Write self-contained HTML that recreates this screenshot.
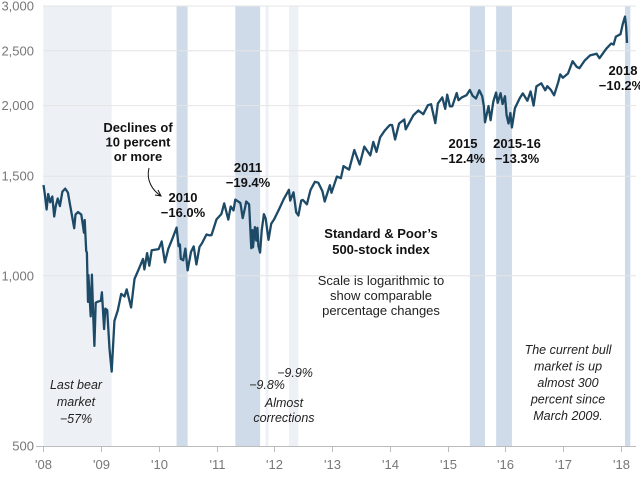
<!DOCTYPE html>
<html><head><meta charset="utf-8"><style>
html,body{margin:0;padding:0;background:#fff;}
svg{display:block;font-family:"Liberation Sans",sans-serif;}
.yl{font-size:13px;fill:#777;text-anchor:end;}
.xl{font-size:13px;fill:#777;text-anchor:middle;}
.b{font-size:13px;font-weight:bold;fill:#111;text-anchor:middle;}
.n{font-size:13px;fill:#222;text-anchor:middle;}
.i{font-size:12.5px;font-style:italic;fill:#222;text-anchor:middle;}
</style></head><body>
<svg id="chart" width="640" height="481" viewBox="0 0 640 481">
<g id="bands"></g><g id="grid"></g><g id="axis"></g>
<path id="line" fill="none" stroke="#1d4a66" stroke-width="2.3" stroke-linejoin="round"/>
<g>
<text class="b" x="138" y="132"><tspan x="138">Declines of</tspan><tspan x="138" dy="14.5">10 percent</tspan><tspan x="138" dy="14.5">or more</tspan></text>
<path d="M149,168 C146,180 152,190 161,196 M155,195 L161,196 L158,190" fill="none" stroke="#111" stroke-width="1"/>
<text class="b" x="183" y="202"><tspan x="183">2010</tspan><tspan x="183" dy="15">−16.0%</tspan></text>
<text class="b" x="248" y="172"><tspan x="248">2011</tspan><tspan x="248" dy="15">−19.4%</tspan></text>
<text class="b" x="463" y="148"><tspan x="463">2015</tspan><tspan x="463" dy="15">−12.4%</tspan></text>
<text class="b" x="517" y="148"><tspan x="517">2015-16</tspan><tspan x="517" dy="15">−13.3%</tspan></text>
<text class="b" x="623" y="75"><tspan x="623">2018</tspan><tspan x="621" dy="15">−10.2%</tspan></text>
<text class="b" x="381" y="238"><tspan x="381">Standard &amp; Poor’s</tspan><tspan x="381" dy="16">500-stock index</tspan></text>
<text class="n" x="381" y="285"><tspan x="381">Scale is logarithmic to</tspan><tspan x="381" dy="15">show comparable</tspan><tspan x="381" dy="15">percentage changes</tspan></text>
<text class="i" x="76" y="389"><tspan x="76">Last bear</tspan><tspan x="76" dy="17">market</tspan><tspan x="76" dy="17">−57%</tspan></text>
<text class="i" x="295" y="377">−9.9%</text>
<text class="i" x="267" y="389">−9.8%</text>
<text class="i" x="284" y="407"><tspan x="284">Almost</tspan><tspan x="284" dy="15">corrections</tspan></text>
<text class="i" x="568" y="354"><tspan x="568">The current bull</tspan><tspan x="568" dy="16.5">market is up</tspan><tspan x="568" dy="16.5">almost 300</tspan><tspan x="568" dy="16.5">percent since</tspan><tspan x="568" dy="16.5">March 2009.</tspan></text>
</g>
</svg>
<script>
const yTicks=[500,1000,1500,2000,2500,3000];
const yTickLabels=["500","1,000","1,500","2,000","2,500","3,000"];
const xYears=[2008,2009,2010,2011,2012,2013,2014,2015,2016,2017,2018];
const xLabels=["'08","'09","'10","'11","'12","'13","'14","'15","'16","'17","'18"];
const bandStart=["2008-01-01","2010-04-23","2011-04-29","2011-11-07","2012-04-02","2015-05-21","2015-11-03","2018-01-26"];
const bandEnd=["2009-03-09","2010-07-02","2011-10-03","2011-11-25","2012-06-01","2015-08-25","2016-02-11","2018-03-01"];
const bandDark=[false,true,true,false,false,true,true,true];
const dates=["2008-01-02","2008-01-10","2008-01-22","2008-02-01","2008-02-14","2008-02-27","2008-03-10","2008-03-20","2008-04-01","2008-04-15","2008-05-01","2008-05-19","2008-06-05","2008-06-18","2008-06-30","2008-07-15","2008-07-23","2008-08-08","2008-08-29","2008-09-15","2008-09-19","2008-09-29","2008-10-03","2008-10-10","2008-10-13","2008-10-27","2008-11-04","2008-11-12","2008-11-20","2008-11-28","2008-12-10","2008-12-31","2009-01-06","2009-01-20","2009-01-28","2009-02-09","2009-02-23","2009-03-09","2009-03-26","2009-04-17","2009-05-08","2009-05-29","2009-06-12","2009-07-10","2009-07-31","2009-08-28","2009-09-23","2009-10-02","2009-10-19","2009-11-02","2009-11-17","2009-12-31","2010-01-19","2010-02-08","2010-03-01","2010-03-31","2010-04-23","2010-05-06","2010-05-14","2010-05-20","2010-06-04","2010-06-18","2010-07-02","2010-07-23","2010-08-09","2010-08-26","2010-09-15","2010-09-30","2010-10-29","2010-11-16","2010-11-30","2010-12-31","2011-01-31","2011-02-18","2011-03-16","2011-03-31","2011-04-18","2011-04-29","2011-05-31","2011-06-15","2011-06-30","2011-07-07","2011-07-25","2011-08-08","2011-08-15","2011-08-19","2011-08-31","2011-09-09","2011-09-16","2011-09-22","2011-10-03","2011-10-13","2011-10-27","2011-11-07","2011-11-25","2011-12-12","2011-12-30","2012-01-31","2012-02-29","2012-04-02","2012-04-10","2012-05-01","2012-05-18","2012-06-01","2012-06-19","2012-06-29","2012-07-25","2012-08-17","2012-09-14","2012-10-05","2012-10-31","2012-11-15","2012-12-18","2012-12-28","2013-01-31","2013-02-25","2013-03-14","2013-04-18","2013-05-21","2013-06-24","2013-07-23","2013-08-30","2013-09-18","2013-10-08","2013-10-31","2013-11-29","2013-12-31","2014-01-15","2014-02-03","2014-02-28","2014-04-02","2014-04-11","2014-05-30","2014-06-30","2014-07-31","2014-08-29","2014-09-18","2014-10-15","2014-10-31","2014-11-28","2014-12-16","2014-12-29","2015-01-15","2015-01-30","2015-02-27","2015-03-10","2015-03-31","2015-04-30","2015-05-21","2015-06-08","2015-06-29","2015-07-20","2015-08-07","2015-08-18","2015-08-25","2015-09-16","2015-09-29","2015-10-16","2015-11-03","2015-11-13","2015-12-01","2015-12-14","2015-12-29","2016-01-08","2016-01-20","2016-02-01","2016-02-11","2016-03-01","2016-03-31","2016-04-20","2016-05-19","2016-06-08","2016-06-27","2016-07-15","2016-08-15","2016-09-09","2016-09-22","2016-10-14","2016-11-04","2016-11-30","2016-12-13","2016-12-30","2017-01-31","2017-03-01","2017-03-27","2017-04-13","2017-05-17","2017-06-19","2017-07-31","2017-08-18","2017-09-29","2017-10-31","2017-11-15","2017-11-30","2017-12-29","2018-01-12","2018-01-26","2018-02-02","2018-02-08"];
const values=[1447,1400,1310,1395,1349,1381,1273,1330,1370,1328,1409,1426,1404,1337,1280,1214,1283,1296,1283,1192,1255,1106,1099,899,1003,848,1005,852,752,896,900,903,935,805,875,870,743,677,832,869,929,919,946,879,987,1029,1071,1026,1097,1042,1110,1115,1150,1056,1115,1169,1217,1128,1136,1071,1065,1117,1022,1102,1127,1047,1125,1141,1183,1179,1180,1258,1286,1343,1257,1326,1305,1364,1345,1265,1321,1353,1338,1119,1204,1123,1219,1154,1216,1129,1099,1203,1285,1262,1158,1236,1258,1312,1366,1419,1358,1405,1295,1278,1358,1362,1338,1418,1466,1461,1412,1353,1446,1402,1498,1488,1563,1541,1669,1573,1692,1633,1725,1656,1757,1806,1848,1848,1742,1859,1890,1815,1924,1960,1931,2003,2011,1862,2018,2068,1973,2091,1993,1995,2105,2044,2068,2086,2131,2080,2058,2128,2078,1992,1868,1996,1884,2033,2109,2023,2103,2012,2078,1922,1859,1940,1829,1978,2060,2102,2040,2119,2000,2162,2190,2128,2164,2133,2085,2199,2271,2239,2279,2396,2342,2329,2404,2453,2470,2426,2519,2575,2564,2648,2674,2786,2873,2762,2581];
const NS="http://www.w3.org/2000/svg";
const X0=43.3,PX=57.77,Y500=446,YTOP=6;
function yearFrac(s){const d=new Date(s+"T00:00:00Z");const y=d.getUTCFullYear();const a=Date.UTC(y,0,1),b=Date.UTC(y+1,0,1);return y+(d-a)/(b-a);}
function xScale(t){return X0+(t-2008)*PX;}
function yScale(v){return Y500-Math.log(v/500)/Math.log(6)*(Y500-YTOP);}
function mk(tag,attrs,parent){const e=document.createElementNS(NS,tag);for(const k in attrs)e.setAttribute(k,attrs[k]);parent.appendChild(e);return e;}
const bands=document.getElementById('bands');
for(let i=0;i<bandStart.length;i++){
  const x1=xScale(yearFrac(bandStart[i])),x2=xScale(yearFrac(bandEnd[i]));
  const r=mk('rect',{x:x1,y:YTOP,width:Math.max(2,x2-x1),height:Y500-YTOP,fill:bandDark[i]?'#d0dbe9':'#edf1f6'},bands);
  
  
}
const grid=document.getElementById('grid');
for(let i=0;i<yTicks.length;i++){
  const y=yScale(yTicks[i]);
  if(i>0){const l=mk('line',{x1:43,x2:636,y1:y,y2:y,stroke:'#e4e4e4','stroke-width':1},grid);
  
  }
  const t=mk('text',{x:34,y:y+4.5,class:'yl'},grid);t.textContent=yTickLabels[i];
  
  
}
const axis=document.getElementById('axis');
const al=mk('line',{x1:36,x2:636,y1:Y500+0.5,y2:Y500+0.5,stroke:'#bbb','stroke-width':1},axis);


for(let i=0;i<xYears.length;i++){
  const x=Math.round(xScale(xYears[i]))+0.5;
  const tk=mk('line',{x1:x,x2:x,y1:Y500,y2:Y500+6,stroke:'#bbb','stroke-width':1},axis);
  
  
  const t=mk('text',{x:x,y:469,class:'xl'},axis);t.textContent=xLabels[i];
  
  
}
let d="";
for(let i=0;i<dates.length;i++){d+=(i?"L":"M")+xScale(yearFrac(dates[i])).toFixed(1)+","+yScale(values[i]).toFixed(1);}
document.getElementById('line').setAttribute('d',d);
</script>
</body></html>
